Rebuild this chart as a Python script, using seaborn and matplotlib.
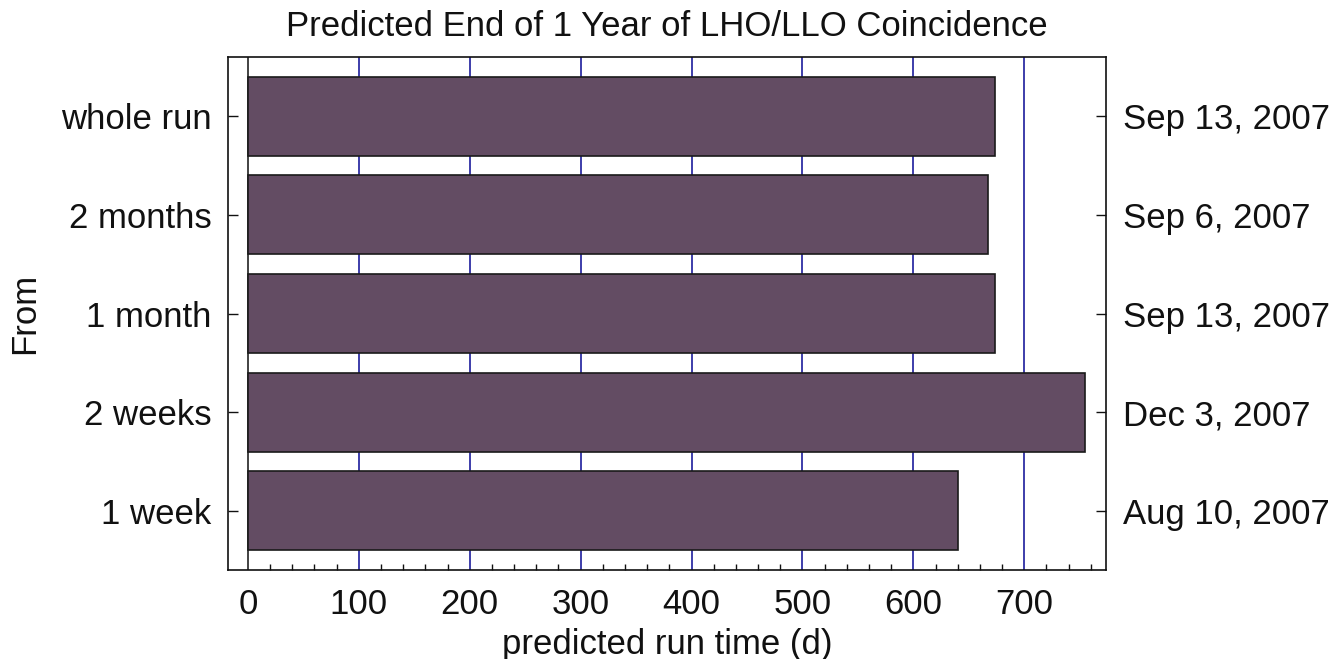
import matplotlib
matplotlib.use("Agg")
import matplotlib.pyplot as plt
from matplotlib.ticker import MultipleLocator
import seaborn as sns
import pandas as pd

# Data
periods = ["whole run", "2 months", "1 month", "2 weeks", "1 week"]
run_days = [674, 667, 674, 755, 640]
end_dates = ["Sep 13, 2007", "Sep 6, 2007", "Sep 13, 2007", "Dec 3, 2007", "Aug 10, 2007"]
x_ticks = [0, 100, 200, 300, 400, 500, 600, 700]

sns.set_theme(style="white")
plt.rcParams["font.family"] = ["Liberation Sans", "DejaVu Sans"]

df = pd.DataFrame({"period": periods, "days": run_days})

fig = plt.figure(figsize=(13.33, 6.59), dpi=100)
ax = fig.add_axes([0.171, 0.135, 0.659, 0.7785])

# vertical grid lines at major ticks
for xv in x_ticks[1:]:
    ax.axvline(xv, color="#1c1c9c", lw=1.2, zorder=0)
ax.axvline(0, color="#222222", lw=1.2, zorder=0)

sns.barplot(data=df, x="days", y="period", orient="h", order=periods,
            color="#634c63", saturation=1, edgecolor="#1a1a1a", linewidth=1.2,
            width=0.8, ax=ax, zorder=2)

ax.set_xlim(-18, 774)
ax.set_ylim(4.6, -0.6)
ax.set_xticks(x_ticks)
ax.xaxis.set_minor_locator(MultipleLocator(20))
ax.tick_params(axis="x", which="major", length=0, labelsize=25, pad=13,
               colors="#111111", labelcolor="#111111")
ax.tick_params(axis="x", which="minor", direction="in", length=4, width=1, color="#111111", bottom=True)
ax.tick_params(axis="y", direction="in", length=7, width=1, color="#111111",
               labelcolor="#111111", labelsize=25, pad=12, left=True)
ax.set_xlabel("predicted run time (d)", fontsize=25, labelpad=5, color="#111111")
ax.set_ylabel("From", fontsize=25, labelpad=14, color="#111111")
ax.set_title("Predicted End of 1 Year of LHO/LLO Coincidence", fontsize=25, pad=15, color="#111111")
for sp in ax.spines.values():
    sp.set_color("#111111")
    sp.set_linewidth(1.2)

# end dates on the right side
ax2 = ax.twinx()
ax2.set_ylim(ax.get_ylim())
ax2.set_yticks(range(len(periods)))
ax2.set_yticklabels(end_dates)
ax2.tick_params(axis="y", direction="in", length=7, width=1, color="#111111",
                labelcolor="#111111", labelsize=25, pad=12, right=True)
ax2.grid(False)
for sp in ax2.spines.values():
    sp.set_visible(False)

fig.savefig("out.png", dpi=100)
